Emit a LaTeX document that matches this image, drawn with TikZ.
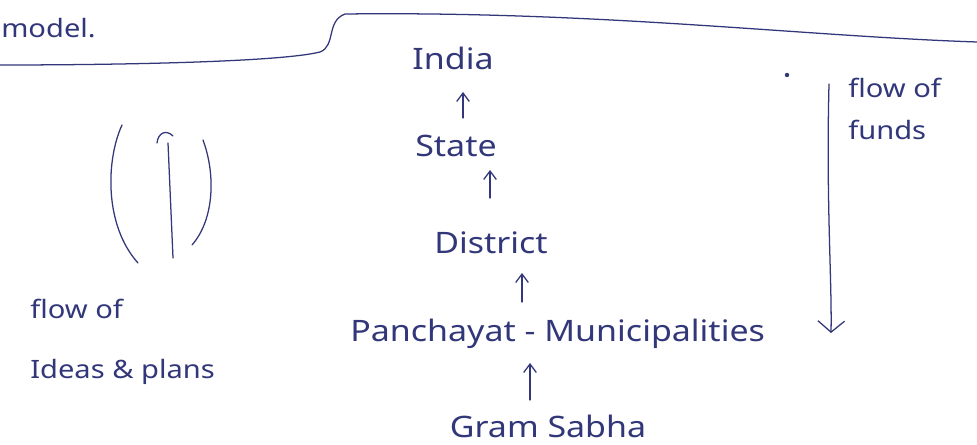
\documentclass[tikz,border=0pt]{standalone}
\usepackage{fontspec}
\setmainfont[FakeStretch=1.15]{Noto Sans}
\usetikzlibrary{arrows.meta,calc}
\definecolor{ink}{RGB}{50,55,122}
\begin{document}
\begin{tikzpicture}[x=0.025cm,y=-0.025cm,
  pen/.style={draw=ink, line width=0.9pt, line cap=round, line join=round},
  lbl/.style={text=ink, inner sep=0pt, font=\fontsize{21}{24}\selectfont},
  side/.style={text=ink, inner sep=0pt, font=\fontsize{18}{21}\selectfont},
  uparrow/.style={pen, -{Straight Barb[length=6pt,width=9pt]}}]
\useasboundingbox (0,0) rectangle (977,445);
\fill[white] (0,0) rectangle (977,445);

% heading and the dividing line under it
\node[side, anchor=base west] (model) at (1,38) {model.};
\draw[pen] (0,65) .. controls (120,65) and (280,62) .. (320,52)
  .. controls (336,46) and (326,21) .. (345,14)
  .. controls (600,11) and (800,36) .. (977,42);

% hierarchy, bottom to top
\node[lbl, anchor=base] (india) at (453,70) {India};
\node[lbl, anchor=base] (state) at (456,157) {State};
\node[lbl, anchor=base] (district) at (491,253) {District};
\node[lbl, anchor=base west] (panch) at (350,341) {Panchayat - Municipalities};
\node[lbl, anchor=base] (gram) at (548,437) {Gram Sabha};

\draw[uparrow] ($(state.base)+(7,-39)$) -- ($(india.base)+(10,22)$);
\draw[uparrow] ($(district.base)+(-1,-55)$) -- ($(state.base)+(34,13)$);
\draw[uparrow] ($(panch.base west)+(172,-39)$) -- ($(district.base)+(31,20)$);
\draw[uparrow] ($(gram.base)+(-18,-37)$) -- ($(panch.base west)+(180,22)$);

% flow of funds, downward
\fill[ink] (787,75) circle (2.2);
\coordinate (fundtop) at (829,84);
\coordinate (fundend) at (831,333);
\draw[pen, -{Straight Barb[length=8pt,width=19pt]}] (fundtop) .. controls (826,200) and (832,280) .. (fundend);
\node[side, anchor=base west] (flowf) at (848,98) {flow of};
\node[side, anchor=base west] (funds) at (848,140) {funds};

% flow of ideas and plans, upward between two brackets
\draw[pen] (122,125) .. controls (106,160) and (104,225) .. (138,263);
\draw[pen] (203,140) .. controls (216,175) and (214,220) .. (192,245);
\draw[pen] (173,258) -- (168,143);
\draw[pen] (157,143) .. controls (158,133) and (166,129) .. (173,136);
\node[side, anchor=base west] (flowi) at (30,318) {flow of};
\node[side, anchor=base west] (ideas) at (30,378) {Ideas \& plans};
\end{tikzpicture}
\end{document}
